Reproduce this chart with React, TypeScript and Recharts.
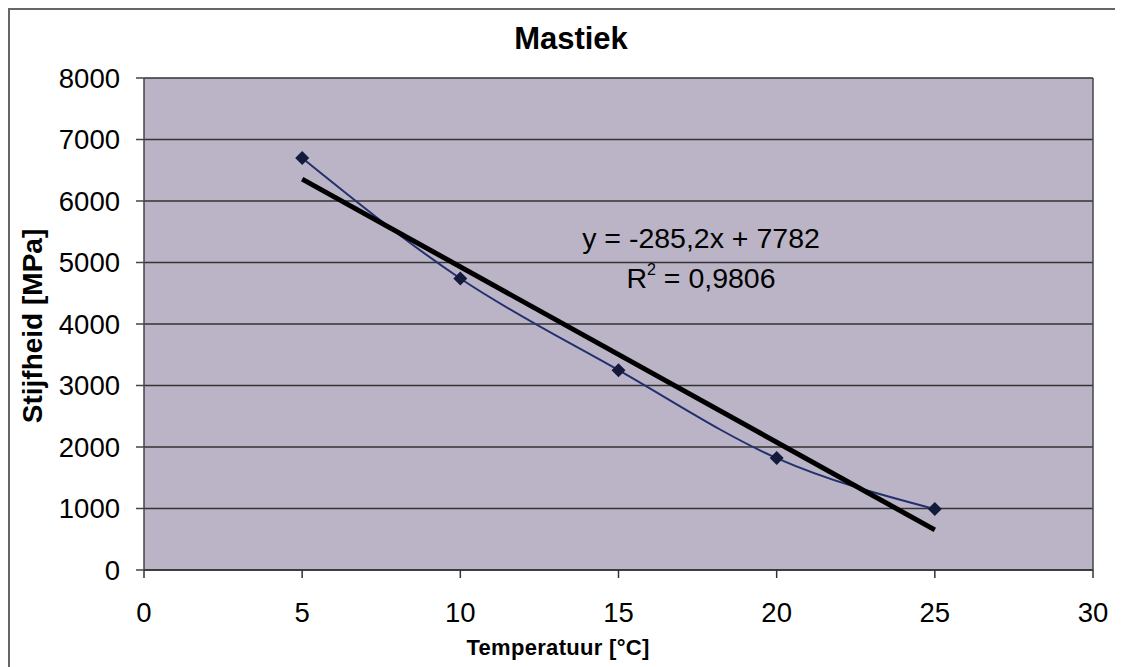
import { ComposedChart, Line, XAxis, YAxis, CartesianGrid, ReferenceLine } from "recharts";

// temperature (°C) and measured stiffness (MPa)
const temps = [5, 10, 15, 20, 25];
const stiffness = [6700, 4740, 3250, 1820, 990];
// linear trend y = -285,2x + 7782 at the first and last temperature
const trendAt = [6356, null, null, null, 652];

const xTicks = [0, 5, 10, 15, 20, 25, 30];
const yTicks = [0, 1000, 2000, 3000, 4000, 5000, 6000, 7000, 8000];

const data = temps.map((t, i) => ({ t, stiff: stiffness[i], trend: trendAt[i] }));

const FONT = "'Liberation Sans', Arial, sans-serif";

function Diamond(props: any) {
  const { cx, cy } = props;
  if (cx == null || cy == null) return null;
  const r = 7;
  return (
    <polygon
      points={`${cx},${cy - r} ${cx + r},${cy} ${cx},${cy + r} ${cx - r},${cy}`}
      fill="#141a3c"
    />
  );
}

export default function App() {
  return (
    <div style={{ position: "relative", width: 1115, height: 659, background: "#fff", fontFamily: FONT, overflow: "hidden" }}>
      <style>{"html,body{overflow:hidden}"}</style>
      <div style={{ position: "absolute", left: 0, top: 0, width: 1115, height: 1.5, background: "#666" }} />
      <div style={{ position: "absolute", left: 0, top: 0, width: 1.5, height: 659, background: "#666" }} />

      <div style={{ position: "absolute", left: 0, top: 13, width: 1126, textAlign: "center", fontSize: 31, fontWeight: "bold", color: "#000" }}>
        Mastiek
      </div>

      <ComposedChart width={1115} height={659} data={data} margin={{ top: 70, right: 30, bottom: 37, left: 0 }}>
        <CartesianGrid vertical={false} stroke="#333" strokeWidth={1.5} fill="#bab4c6" fillOpacity={1} />
        <XAxis
          dataKey="t"
          type="number"
          domain={[0, 30]}
          ticks={xTicks}
          height={60}
          tickSize={8}
          tickMargin={24}
          stroke="#333"
          strokeWidth={1.5}
          tick={{ fill: "#000", fontSize: 27.5, fontFamily: FONT }}
        />
        <YAxis
          type="number"
          domain={[0, 8000]}
          ticks={yTicks}
          width={136}
          tickSize={8}
          tickMargin={16}
          stroke="#444"
          strokeWidth={1.5}
          tick={{ fill: "#000", fontSize: 27.5, fontFamily: FONT }}
        />
        <ReferenceLine x={30} stroke="#444" strokeWidth={1.5} />
        <Line
          dataKey="stiff"
          type="monotone"
          stroke="#22306e"
          strokeWidth={2}
          dot={<Diamond />}
          activeDot={false}
          isAnimationActive={false}
        />
        <Line
          dataKey="trend"
          type="linear"
          stroke="#000"
          strokeWidth={5}
          connectNulls
          dot={false}
          activeDot={false}
          isAnimationActive={false}
        />
      </ComposedChart>

      <div style={{ position: "absolute", left: 25, top: 318, transform: "translate(-50%, -50%) rotate(-90deg)", fontSize: 28, fontWeight: "bold", whiteSpace: "nowrap" }}>
        Stijfheid [MPa]
      </div>
      <div style={{ position: "absolute", left: 550, top: 627, transform: "translateX(-50%)", fontSize: 22, fontWeight: "bold", letterSpacing: 0.3, whiteSpace: "nowrap" }}>
        Temperatuur [°C]
      </div>
      <div style={{ position: "absolute", left: 693, top: 210, transform: "translateX(-50%)", fontSize: 28.5, textAlign: "center", lineHeight: "40px", whiteSpace: "nowrap" }}>
        <div>y = -285,2x + 7782</div>
        <div>R<sup style={{ fontSize: 16, verticalAlign: 13, lineHeight: 0 }}>2</sup> = 0,9806</div>
      </div>
    </div>
  );
}
